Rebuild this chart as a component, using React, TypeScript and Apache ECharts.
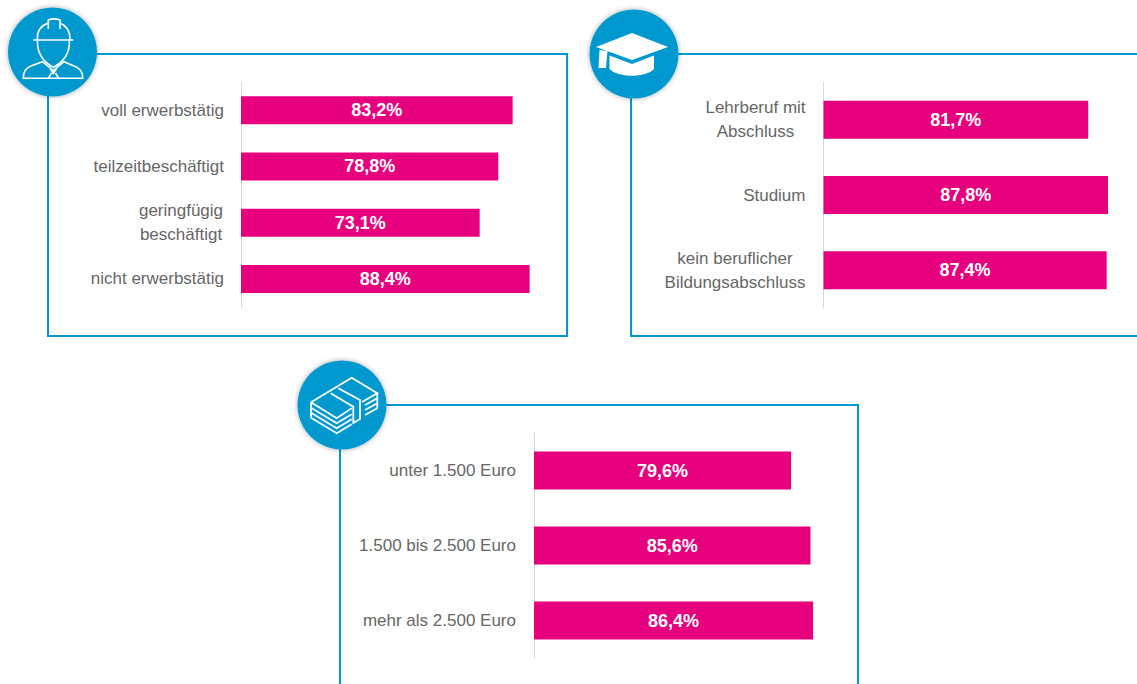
import React, { useEffect, useRef } from "react";
import * as echarts from "echarts";

const employmentCategories = ["voll erwerbstätig", "teilzeitbeschäftigt", "geringfügig\nbeschäftigt", "nicht erwerbstätig"];
const employmentValues = [83.2, 78.8, 73.1, 88.4];
const educationCategories = ["Lehrberuf mit\nAbschluss", "Studium", "kein beruflicher\nBildungsabschluss"];
const educationValues = [81.7, 87.8, 87.4];
const incomeCategories = ["unter 1.500 Euro", "1.500 bis 2.500 Euro", "mehr als 2.500 Euro"];
const incomeValues = [79.6, 85.6, 86.4];

const BLUE = "#0099cf";
const PINK = "#e6007e";
const GREY = "#666666";
const FONT = "'Liberation Sans', sans-serif";
const LABEL_SIZE = 17;

const workerPath =
  "M33.3 40 L73.3 40 M37.3 39.5 C37 31 41 25.5 48.3 23 L48.3 29 M48.3 23 L48.3 20 C52 18.5 56 18.5 60 20 L60 29 M60 23 C66 25.5 70 31 70 39.5 " +
  "M37.5 41 C37 53 42 61 53.3 67.3 C65 61 70 53 69.3 41 " +
  "M23.3 78.3 L82.7 78.3 C83 72 80 68 74 66 L64 61.7 L53.3 70.5 L42.5 61.7 L31 66 C26 68 23 72 23.3 78.3 Z " +
  "M50 68.3 L53.3 73.5 L56.7 68.3 M51.5 73 L48.5 78 M55.5 73 L58.5 78";
const capPath =
  "M632 33 L668 47 L632 60 L596 47 Z M609.5 55.5 L632 64 L654 55.5 L654 69 C646 78 618 78 609.5 69 Z M599.5 50 L607.5 51 L606 68 L598.5 68 Z";
const moneyPath =
  "M311 402.3 L351.7 377.7 L377.3 393.3 L362 402 M311 402.3 L336.7 418.3 L351.7 408.3 " +
  "M311 402.3 L311 417.7 M311 407.7 L336.7 423.3 L351.7 414.3 M311 412.7 L336.7 428.3 L351.7 419.3 M311 417.7 L336.7 433.3 L351.7 424.3 " +
  "M330.7 393.3 L353.3 406.7 L353.3 423 L360 419 L360 400 L338.3 388.3 " +
  "M365 405 L377.3 398.3 M365 410 L377.3 403.3 M365 415 L377.3 408.3 M377.3 393.3 L377.3 408.3";

echarts.graphic.registerShape("workerIcon", echarts.graphic.extendPath(workerPath, {}));
echarts.graphic.registerShape("capIcon", echarts.graphic.extendPath(capPath, {}));
echarts.graphic.registerShape("moneyIcon", echarts.graphic.extendPath(moneyPath, {}));

const blockWidths: Record<string, number> = {
  "geringfügig\nbeschäftigt": 86,
  "Lehrberuf mit\nAbschluss": 100,
  "kein beruflicher\nBildungsabschluss": 141,
};

const richKey = (w: number) => `w${w}`;

function centered(text: string) {
  const parts = text.split("\n");
  if (parts.length < 2) return text;
  const key = richKey(blockWidths[text]);
  return parts.map((p) => `{${key}|${p}}`).join("\n");
}

const rich = Object.fromEntries(
  Object.values(blockWidths).map((w) => [
    richKey(w),
    { color: GREY, fontFamily: FONT, fontSize: LABEL_SIZE, lineHeight: 24, width: w, align: "center" },
  ]),
);

function yAxis(gridIndex: number, data: string[], margin: number) {
  return {
    type: "category",
    gridIndex,
    data,
    inverse: true,
    axisTick: { show: false },
    axisLine: { show: true, lineStyle: { color: "#d9d9d9", width: 1 } },
    axisLabel: {
      color: GREY,
      fontFamily: FONT,
      fontSize: LABEL_SIZE,
      margin,
      lineHeight: 24,
      interval: 0,
      formatter: centered,
      rich,
    },
  };
}

function xAxis(gridIndex: number) {
  return { type: "value", gridIndex, min: 0, max: 100, show: false };
}

function bars(index: number, data: number[], barWidth: number) {
  return {
    type: "bar",
    xAxisIndex: index,
    yAxisIndex: index,
    data,
    barWidth,
    itemStyle: { color: PINK },
    label: {
      show: true,
      position: "inside",
      color: "#ffffff",
      fontFamily: FONT,
      fontWeight: "bold",
      fontSize: 18,
      formatter: (p: any) => p.value.toFixed(1).replace(".", ",") + "%",
    },
  };
}

function panel(x: number, y: number, w: number, h: number) {
  return { type: "rect", z: 1, shape: { x, y, width: w, height: h }, style: { fill: "none", stroke: BLUE, lineWidth: 2 } };
}

function badge(cx: number, cy: number) {
  return {
    type: "circle",
    z: 2,
    shape: { cx, cy, r: 44.5 },
    style: { fill: BLUE, shadowBlur: 5, shadowColor: "rgba(0,0,0,0.35)" },
  };
}

export default function App() {
  const ref = useRef<HTMLDivElement>(null);
  useEffect(() => {
    const chart = echarts.init(ref.current!, undefined, { renderer: "svg" });
    chart.setOption({
      animation: false,
      backgroundColor: "#ffffff",
      grid: [
        { left: 241, top: 82, width: 326.5, height: 225, outerBoundsMode: "none" },
        { left: 823.5, top: 82, width: 324, height: 226, outerBoundsMode: "none" },
        { left: 534, top: 433, width: 323, height: 225, outerBoundsMode: "none" },
      ],
      xAxis: [xAxis(0), xAxis(1), xAxis(2)],
      yAxis: [
        yAxis(0, employmentCategories, 17),
        yAxis(1, educationCategories, 18),
        yAxis(2, incomeCategories, 18),
      ],
      series: [bars(0, employmentValues, 28), bars(1, educationValues, 38), bars(2, incomeValues, 38)],
      graphic: [
        panel(48, 54, 519, 282),
        panel(631, 54, 540, 282),
        panel(340, 405, 518, 320),
        badge(52.5, 52),
        badge(634, 54),
        badge(342, 405),
        { type: "workerIcon", z: 3, style: { fill: "none", stroke: "#ffffff", lineWidth: 1.6 } },
        { type: "capIcon", z: 3, style: { fill: "#ffffff" } },
        { type: "moneyIcon", z: 3, style: { fill: "none", stroke: "#ffffff", lineWidth: 1.8 } },
      ],
    });
    return () => chart.dispose();
  }, []);
  return <div ref={ref} style={{ position: "fixed", left: 0, top: 0, width: 1137, height: 684 }} />;
}
